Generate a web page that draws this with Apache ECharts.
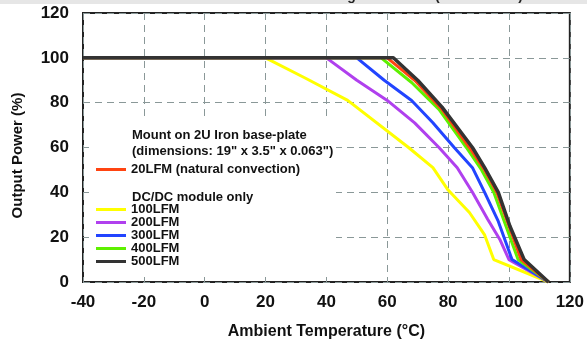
<!DOCTYPE html>
<html>
<head>
<meta charset="utf-8">
<script src="https://cdn.jsdelivr.net/npm/echarts@6/dist/echarts.min.js"></script>
<style>
	html,body{margin:0;padding:0;background:#fff;}
	#chart{width:587px;height:347px;}
</style>
</head>
<body>
<div id="chart"></div>
<script>
// temperature (°C) / output power (%) pairs
var natural20 = [[-40,100],[60,100],[69,90],[78,77],[87,60],[92,50],[96,40],[100,25],[104,10],[113,0]];
var lfm100 = [[-40,100],[20,100],[33,91],[47,81],[67,60],[75,51],[80,41],[87,31],[92,21],[95,10],[113,0]];
var lfm200 = [[-40,100],[40,100],[50,90],[60,81],[69,71],[77,60],[83,51],[88,40],[93,28],[97,19],[100,10],[113,0]];
var lfm300 = [[-40,100],[50,100],[59,90],[68,81],[75,71],[82,60],[88,51],[92,40],[96.5,27],[101,10],[113,0]];
var lfm400 = [[-40,100],[58,100],[68,89],[77,77],[86,60],[91,50],[95,40],[99,25],[103,10],[113,0]];
var lfm500 = [[-40,100],[62,100],[70,90],[78,78],[88,60],[92,51],[96.5,40],[100.3,25],[105,10],[113,0]];

var names = ['100LFM','200LFM','300LFM','400LFM','500LFM'];
var natName = '20LFM (natural convection)';

var font = '"Liberation Sans", Arial, sans-serif';
var gridColor = '#8a9898';

function line(name, data, color, width){
	return {
		name:name,
		type:'line',
		data:data,
		symbol:'none',
		lineStyle:{color:color,width:width},
		itemStyle:{color:color},
		z:3
	};
}

var myChart = echarts.init(document.getElementById('chart'));
var legendText = {fontFamily:font,fontWeight:'bold',fontSize:13,color:'#111',lineHeight:13};
var option = {
	animation:false,
	backgroundColor:'#fff',
	grid:{
		left:83,
		right:15,
		top:13,
		bottom:65,
		show:true,
		borderColor:'#222',
		borderWidth:2
	},
	xAxis:{
		type:'value',
		min:-40,
		max:120,
		interval:20,
		name:'Ambient Temperature (°C)',
		nameLocation:'middle',
		nameGap:42,
		nameTextStyle:{fontFamily:font,fontWeight:'bold',fontSize:16,color:'#111'},
		axisLine:{show:false},
		axisTick:{inside:true,length:5,lineStyle:{color:gridColor}},
		axisLabel:{fontFamily:font,fontWeight:'bold',fontSize:17,color:'#111',margin:12},
		splitLine:{show:true,lineStyle:{color:gridColor,type:[7,5],width:1}}
	},
	yAxis:{
		type:'value',
		min:0,
		max:120,
		interval:20,
		name:'Output Power (%)',
		nameLocation:'middle',
		nameGap:58,
		nameTextStyle:{fontFamily:font,fontWeight:'bold',fontSize:15,color:'#111',padding:[0,16,0,0]},
		axisLine:{show:false},
		axisTick:{inside:true,length:5,lineStyle:{color:gridColor}},
		axisLabel:{fontFamily:font,fontWeight:'bold',fontSize:17,color:'#111',margin:14},
		splitLine:{show:true,lineStyle:{color:gridColor,type:[7,5],width:1}}
	},
	legend:[
		{
			data:[natName],
			orient:'vertical',
			left:96,
			top:163,
			padding:0,
			icon:'rect',
			itemWidth:30,
			itemHeight:3,
			itemGap:0,
			textStyle:legendText
		},
		{
			data:names,
			orient:'vertical',
			left:96,
			top:203,
			padding:0,
			icon:'rect',
			itemWidth:30,
			itemHeight:3,
			itemGap:0,
			textStyle:legendText
		}
	],
	graphic:[
		{type:'rect',z:1,shape:{x:0,y:0,width:587,height:4},style:{fill:'#e6e6e6'}},
		{type:'text',z:1,x:523,y:-11,style:{text:'Thermal Derating Curve Test (Vin = 48Vdc)',fontFamily:font,fontWeight:'bold',fontSize:14,fill:'#222',textAlign:'right',textVerticalAlign:'top'}},
		{type:'rect',z:1,shape:{x:89,y:117,width:247,height:159},style:{fill:'#fff'}},
		{type:'text',z:5,x:132,y:135.5,style:{text:'Mount on 2U Iron base-plate',fontFamily:font,fontWeight:'bold',fontSize:13,fill:'#111',textVerticalAlign:'middle'}},
		{type:'text',z:5,x:132,y:151.5,style:{text:'(dimensions: 19" x 3.5" x 0.063")',fontFamily:font,fontWeight:'bold',fontSize:13,fill:'#111',textVerticalAlign:'middle'}},
		{type:'text',z:5,x:132,y:197.5,style:{text:'DC/DC module only',fontFamily:font,fontWeight:'bold',fontSize:13,fill:'#111',textVerticalAlign:'middle'}}
	],
	series:[
		line(names[0], lfm100, '#ffff00', 3),
		line(names[1], lfm200, '#b040ee', 3),
		line(names[2], lfm300, '#2244ff', 3),
		line(names[3], lfm400, '#5ef000', 3),
		line(natName, natural20, '#ff4411', 3),
		line(names[4], lfm500, '#333333', 3.5)
	]
};
myChart.setOption(option);
</script>
</body>
</html>
